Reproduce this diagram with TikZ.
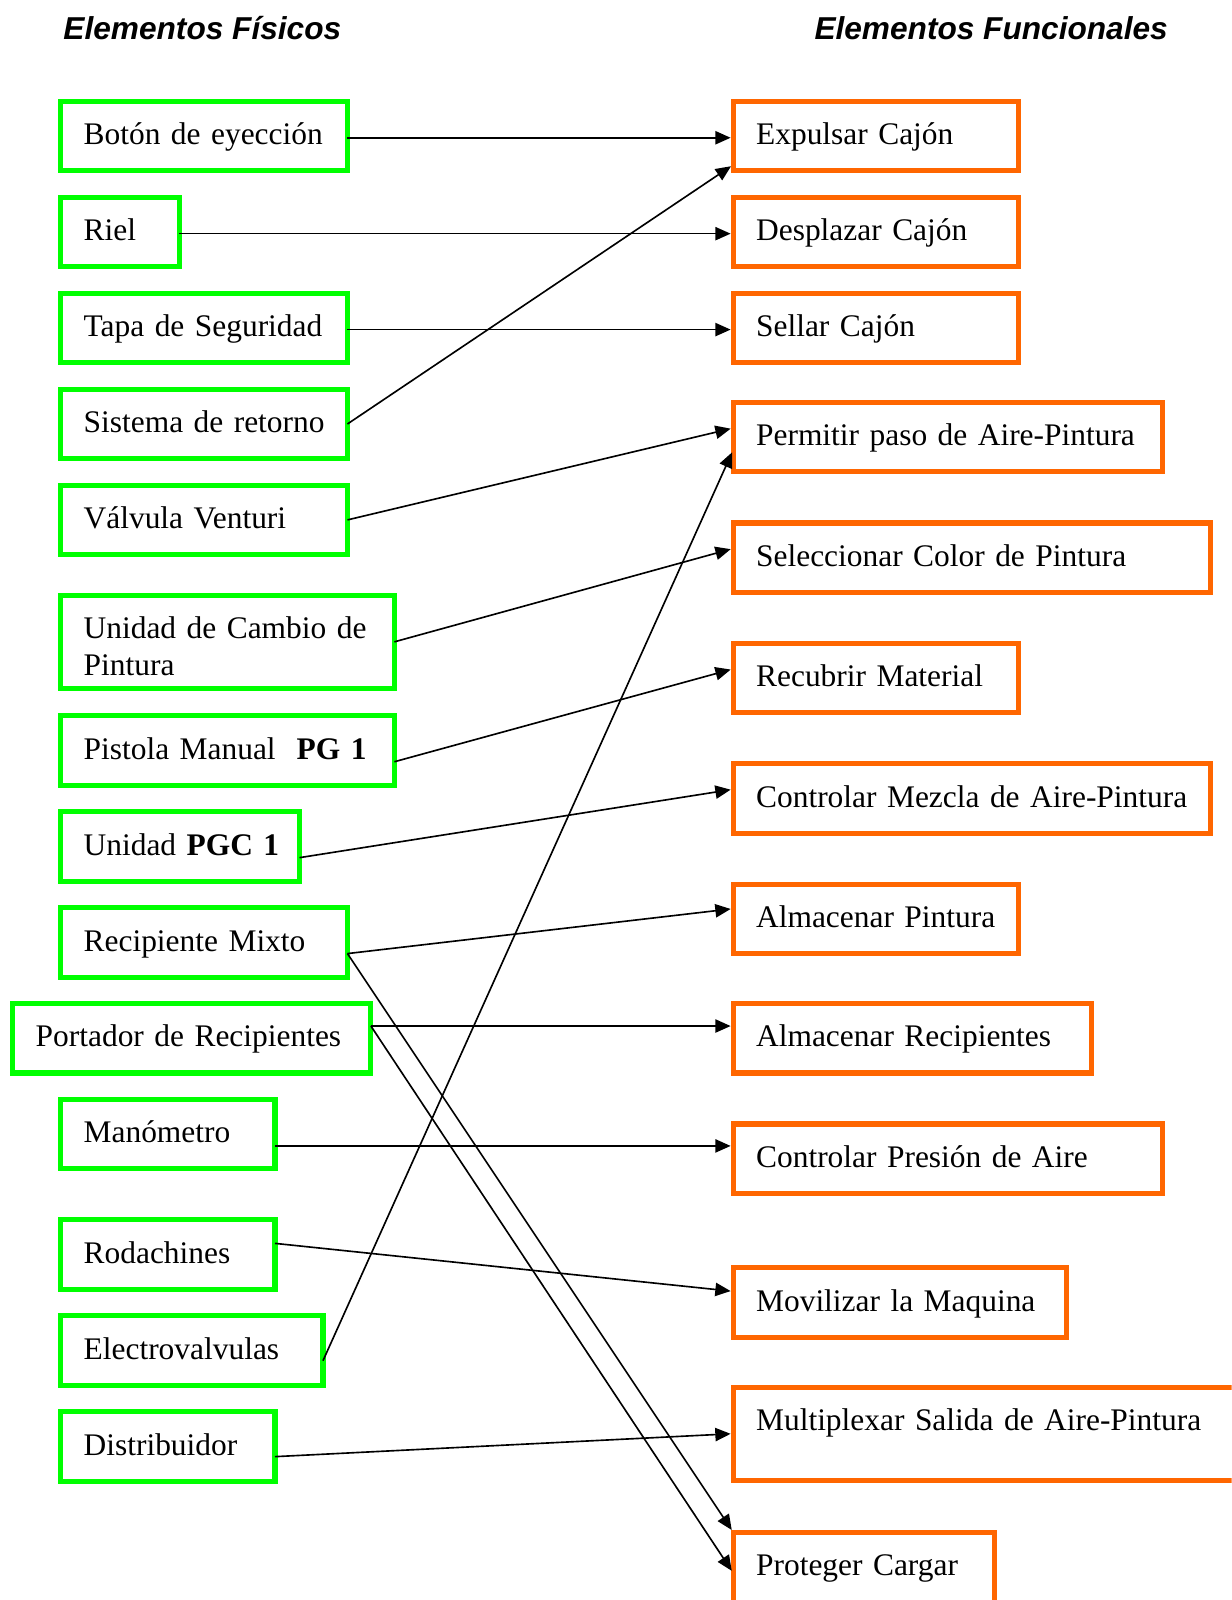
\documentclass[tikz,border=0pt]{standalone}
\usepackage{fontspec}
\setmainfont{Liberation Serif}
\newfontfamily\headfont{Liberation Sans}
\usetikzlibrary{arrows.meta}
\definecolor{physgreen}{HTML}{00FF00}
\definecolor{funcorange}{HTML}{FF6600}
\begin{document}
\begin{tikzpicture}[x=1pt,y=-1pt,
  box/.style={line width=5pt, outer sep=0pt, anchor=north west, inner xsep=22.5pt, inner ysep=0pt,
    align=left, text height=42.5pt, text depth=25.5pt, font=\fontsize{30.8}{36}\selectfont},
  pbox/.style={box, draw=physgreen, text width=#1},
  fbox/.style={box, draw=funcorange, text width=#1},
  head/.style={anchor=base west, inner sep=0pt, font=\headfont\bfseries\itshape\fontsize{31}{36}\selectfont},
  conn/.style={-{Triangle[length=15pt,width=13pt]}, line width=1.6pt, shorten >=2.5pt}
]
\useasboundingbox (0,0) rectangle (1207,1568);
\clip (0,0) rectangle (1207,1568);

% column headings
\node[head] (hphys) at (62,38.5) {Elementos Físicos};
\node[head] (hfunc) at (798,38.5) {Elementos Funcionales};

% physical elements
\node[pbox=236pt] (bot) at (59.5,99.5)  {\mbox{Botón de eyección}};
\node[pbox=71pt]  (riel) at (59.5,193.5) {\mbox{Riel}};
\node[pbox=236pt] (tapa) at (59.5,287.5) {\mbox{Tapa de Seguridad}};
\node[pbox=236pt] (sis) at (59.5,381.5)  {\mbox{Sistema de retorno}};
\node[pbox=236pt] (val) at (59.5,475.5)  {\mbox{Válvula Venturi}};
\node[pbox=282pt, text depth=48.5pt] (ucp) at (59.5,583.5) {Unidad de Cambio de\\Pintura};
\node[pbox=282pt] (pis) at (59.5,701.5)  {\mbox{Pistola Manual\ \ \textbf{PG 1}}};
\node[pbox=189pt] (pgc) at (59.5,795.5)  {\mbox{Unidad \textbf{PGC 1}}};
\node[pbox=236pt] (rec) at (59.5,889.5)  {\mbox{Recipiente Mixto}};
\node[pbox=306pt] (por) at (12.5,983.5)  {\mbox{Portador de Recipientes}};
\node[pbox=165pt] (man) at (59.5,1077.5) {\mbox{Manómetro}};
\node[pbox=165pt] (rod) at (59.5,1195.5) {\mbox{Rodachines}};
\node[pbox=212pt] (ele) at (59.5,1289.5) {\mbox{Electrovalvulas}};
\node[pbox=165pt] (dis) at (59.5,1383.5) {\mbox{Distribuidor}};

% functional elements
\node[fbox=235pt] (exp) at (718.5,99.5)  {\mbox{Expulsar Cajón}};
\node[fbox=235pt] (des) at (718.5,193.5) {\mbox{Desplazar Cajón}};
\node[fbox=235pt] (sel) at (718.5,287.5) {\mbox{Sellar Cajón}};
\node[fbox=376pt] (per) at (718.5,394.5) {\mbox{Permitir paso de Aire-Pintura}};
\node[fbox=423pt] (scp) at (718.5,512.5) {\mbox{Seleccionar Color de Pintura}};
\node[fbox=235pt] (rem) at (718.5,630.5) {\mbox{Recubrir Material}};
\node[fbox=423pt] (cmz) at (718.5,748.5) {\mbox{Controlar Mezcla de Aire-Pintura}};
\node[fbox=235pt] (alp) at (718.5,866.5) {\mbox{Almacenar Pintura}};
\node[fbox=306pt] (alr) at (718.5,983.5) {\mbox{Almacenar Recipientes}};
\node[fbox=376pt] (cpa) at (718.5,1101.5) {\mbox{Controlar Presión de Aire}};
\node[fbox=282pt] (mov) at (718.5,1242.5) {\mbox{Movilizar la Maquina}};
\node[fbox=475pt, text depth=48.5pt] (mul) at (718.5,1359.5) {\mbox{Multiplexar Salida de Aire-Pintura}};
\node[fbox=211pt, text depth=35pt] (pro) at (718.5,1501.5) {\mbox{Proteger Cargar}};

% relations
\draw[conn] ([yshift=-1.5pt]bot.east) -- ([yshift=-1.5pt]exp.west);
\draw[conn] ([yshift=-1.5pt]riel.east) -- ([yshift=-1.5pt]des.west);
\draw[conn] ([yshift=-1.5pt]tapa.east) -- ([yshift=-1.5pt]sel.west);
\draw[conn] (sis.east) -- ([yshift=6pt]exp.south west);
\draw[conn] (val.east) -- ([yshift=9pt]per.west);
\draw[conn] (ucp.east) -- ([yshift=9pt]scp.west);
\draw[conn] ([yshift=-11pt]pis.east) -- ([yshift=9pt]rem.west);
\draw[conn] ([yshift=-11pt]pgc.east) -- ([yshift=9pt]cmz.west);
\draw[conn] ([yshift=-11pt]rec.east) -- ([yshift=10pt]alp.west);
\draw[conn] ([yshift=-11pt]rec.east) -- (pro.north west);
\draw[conn] ([yshift=12pt]por.east) -- ([yshift=12pt]alr.west);
\draw[conn] ([yshift=12pt]por.east) -- ([yshift=-40pt]pro.north west);
\draw[conn] ([yshift=-11.5pt]man.east) -- ([yshift=12.5pt]cpa.west);
\draw[conn] ([yshift=11pt]rod.east) -- ([yshift=11pt]mov.west);
\draw[conn] ([yshift=-10pt]ele.east) -- ([yshift=-12.5pt]per.west);
\draw[conn] ([yshift=-10pt]dis.east) -- (mul.west);
\end{tikzpicture}
\end{document}
